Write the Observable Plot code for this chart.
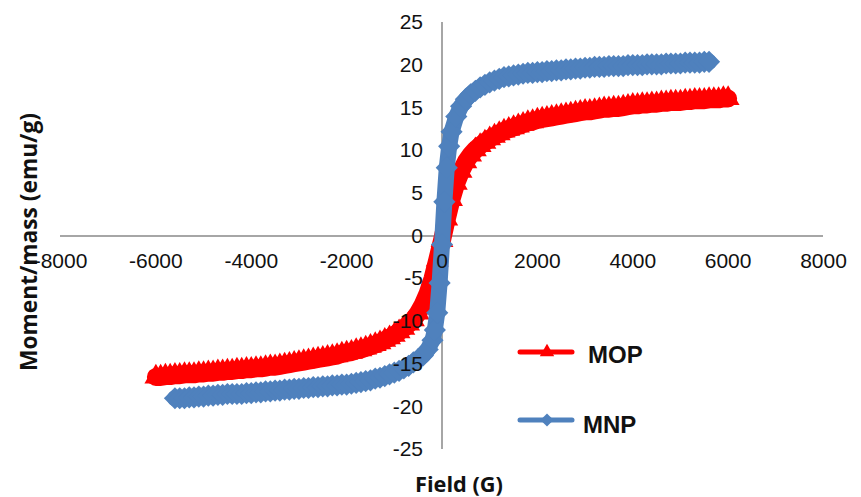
<!DOCTYPE html>
<html><head><meta charset="utf-8">
<script src="https://cdn.jsdelivr.net/npm/d3@7"></script>
<script src="https://cdn.jsdelivr.net/npm/@observablehq/plot@0.6"></script>
<style>
body{margin:0;background:#fff;}
#wrap{position:relative;width:861px;height:497px;overflow:hidden;}
#wrap svg{position:absolute;left:0;top:0;}
</style></head><body>
<div id="wrap"></div>
<script>
// ---- data ----
const mopField = [-6000,-5900,-5800,-5700,-5600,-5500,-5400,-5300,-5200,-5100,-5000,-4900,-4800,-4700,-4600,-4500,-4400,-4300,-4200,-4100,-4000,-3900,-3800,-3700,-3600,-3500,-3400,-3300,-3200,-3100,-3000,-2900,-2800,-2700,-2600,-2500,-2400,-2300,-2200,-2100,-2000,-1900,-1800,-1700,-1600,-1500,-1400,-1300,-1200,-1100,-1000,-900,-800,-700,-600,-500,-400,-300,-200,-100,0,100,200,300,400,500,600,700,800,900,1000,1100,1200,1300,1400,1500,1600,1700,1800,1900,2000,2100,2200,2300,2400,2500,2600,2700,2800,2900,3000,3100,3200,3300,3400,3500,3600,3700,3800,3900,4000,4100,4200,4300,4400,4500,4600,4700,4800,4900,5000,5100,5200,5300,5400,5500,5600,5700,5800,5900,6000];
const mopMoment = [-16.5,-16.5,-16.4,-16.4,-16.3,-16.3,-16.2,-16.2,-16.2,-16.1,-16.1,-16.0,-16.0,-15.9,-15.9,-15.8,-15.8,-15.7,-15.7,-15.6,-15.6,-15.5,-15.5,-15.4,-15.3,-15.3,-15.2,-15.1,-15.0,-14.9,-14.8,-14.7,-14.6,-14.5,-14.4,-14.3,-14.2,-14.1,-14.0,-13.8,-13.7,-13.6,-13.4,-13.3,-13.1,-12.9,-12.7,-12.5,-12.2,-11.9,-11.6,-11.2,-10.8,-10.3,-9.8,-9.0,-8.0,-6.7,-5.0,-2.8,-0.5,2.0,4.3,6.2,7.6,8.7,9.5,10.1,10.6,11.0,11.4,11.7,12.0,12.3,12.5,12.7,12.9,13.1,13.3,13.4,13.6,13.7,13.8,13.9,14.0,14.1,14.2,14.3,14.4,14.5,14.6,14.6,14.7,14.8,14.9,14.9,15.0,15.0,15.1,15.2,15.3,15.3,15.4,15.4,15.5,15.5,15.6,15.6,15.7,15.7,15.7,15.8,15.8,15.9,15.9,15.9,16.0,16.0,16.0,16.1,16.1];
const mnpField = [-5600,-5500,-5400,-5300,-5200,-5100,-5000,-4900,-4800,-4700,-4600,-4500,-4400,-4300,-4200,-4100,-4000,-3900,-3800,-3700,-3600,-3500,-3400,-3300,-3200,-3100,-3000,-2900,-2800,-2700,-2600,-2500,-2400,-2300,-2200,-2100,-2000,-1900,-1800,-1700,-1600,-1500,-1400,-1300,-1200,-1100,-1000,-900,-800,-700,-600,-500,-400,-300,-200,-150,-100,-50,0,50,100,150,200,300,400,500,600,700,800,900,1000,1100,1200,1300,1400,1500,1600,1700,1800,1900,2000,2100,2200,2300,2400,2500,2600,2700,2800,2900,3000,3100,3200,3300,3400,3500,3600,3700,3800,3900,4000,4100,4200,4300,4400,4500,4600,4700,4800,4900,5000,5100,5200,5300,5400,5500,5600];
const mnpMoment = [-19.0,-19.0,-19.0,-18.9,-18.9,-18.8,-18.8,-18.7,-18.7,-18.6,-18.6,-18.5,-18.5,-18.5,-18.5,-18.4,-18.4,-18.3,-18.3,-18.2,-18.2,-18.1,-18.1,-18.0,-18.0,-17.9,-17.9,-17.8,-17.8,-17.7,-17.7,-17.6,-17.6,-17.5,-17.5,-17.4,-17.4,-17.3,-17.2,-17.1,-17.0,-16.9,-16.7,-16.6,-16.4,-16.2,-16.0,-15.8,-15.5,-15.2,-14.8,-14.4,-14.0,-13.3,-12.2,-11.0,-9.0,-5.5,-1.0,4.0,8.0,10.5,12.2,14.0,15.2,16.0,16.6,17.0,17.4,17.7,18.0,18.2,18.4,18.6,18.7,18.8,18.9,19.0,19.1,19.1,19.2,19.2,19.3,19.3,19.4,19.4,19.5,19.5,19.6,19.6,19.7,19.7,19.8,19.8,19.8,19.9,19.9,19.9,19.9,20.0,20.0,20.0,20.0,20.1,20.1,20.1,20.1,20.2,20.2,20.2,20.2,20.3,20.3,20.3,20.3,20.4,20.4];
const xTicks = [-8000,-6000,-4000,-2000,0,2000,4000,6000,8000];
const yTicks = [-25,-20,-15,-10,-5,0,5,10,15,20,25];
const seriesNames = ["MOP","MNP"];
const seriesColors = ["#FF0000","#4F81BD"];
const xTitle = "Field (G)";
const yTitle = "Moment/mass (emu/g)";

// ---- build ----
const mop = mopField.map((x,i)=>({x, y:mopMoment[i]}));
const mnp = mnpField.map((x,i)=>({x, y:mnpMoment[i]}));
const tickFont = "'Liberation Sans',Arial,sans-serif";
const W = 861, H = 497;

const chart = Plot.plot({
  width: W, height: H,
  marginLeft: 60, marginRight: 38, marginTop: 22, marginBottom: 48,
  style: {background: "#fff"},
  x: {domain: [-8000, 8000], axis: null},
  y: {domain: [-25, 25], axis: null},
  marks: [
    Plot.ruleY([0], {stroke: "#a6a6a6", strokeWidth: 2}),
    Plot.ruleX([0], {stroke: "#a6a6a6", strokeWidth: 2}),
    Plot.line(mop, {x: "x", y: "y", stroke: seriesColors[0], strokeWidth: 18}),
    Plot.dot(mop, {x: "x", y: "y", symbol: "triangle", r: 8.5, fill: seriesColors[0], stroke: "none"}),
    Plot.line(mnp, {x: "x", y: "y", stroke: seriesColors[1], strokeWidth: 16}),
    Plot.dot(mnp, {x: "x", y: "y", symbol: "diamond2", r: 10, fill: seriesColors[1], stroke: "none"}),
    Plot.text(xTicks, {x: d => d, y: 0, dy: 25, text: d => String(d), fontSize: 21, fontFamily: tickFont, fill: "#111"}),
    Plot.text(yTicks, {x: 0, y: d => d, dx: -19, textAnchor: "end", text: d => String(d), fontSize: 21, fontFamily: tickFont, fill: "#111"})
  ]
});
document.getElementById("wrap").appendChild(chart);

// ---- titles and legend overlay ----
const ov = d3.select("#wrap").append("svg").attr("width", W).attr("height", H)
  .style("pointer-events", "none");
ov.append("text").attr("transform", "translate(37,242) rotate(-90)")
  .attr("text-anchor", "middle")
  .attr("textLength", 258).attr("lengthAdjust", "spacingAndGlyphs")
  .style("font-family", "'Open Sans',sans-serif").style("font-weight", "bold").style("font-size", "23px")
  .attr("fill", "#111")
  .text(yTitle);
ov.append("text").attr("x", 459).attr("y", 492).attr("text-anchor", "middle")
  .attr("textLength", 88).attr("lengthAdjust", "spacingAndGlyphs")
  .style("font-family", "'Open Sans',sans-serif").style("font-weight", "bold").style("font-size", "22px")
  .attr("fill", "#111")
  .text(xTitle);

const legY = [352, 420], legText = [363, 433], legX = [588, 583];
const legSym = [d3.symbol(d3.symbolTriangle, 90), d3.symbol(d3.symbolDiamond2, 110)];
seriesNames.forEach((name, i) => {
  const g = ov.append("g");
  g.append("line").attr("x1", 520).attr("x2", 572).attr("y1", legY[i]).attr("y2", legY[i])
    .attr("stroke", seriesColors[i]).attr("stroke-width", 5).attr("stroke-linecap", "round");
  g.append("path").attr("d", legSym[i]()).attr("transform", `translate(547,${legY[i]})`).attr("fill", seriesColors[i]);
  g.append("text").attr("x", legX[i]).attr("y", legText[i])
    .style("font-family", "'Liberation Sans',Arial,sans-serif").style("font-weight", "bold").style("font-size", "24px")
    .attr("fill", "#111").text(name);
});
</script>
</body></html>
